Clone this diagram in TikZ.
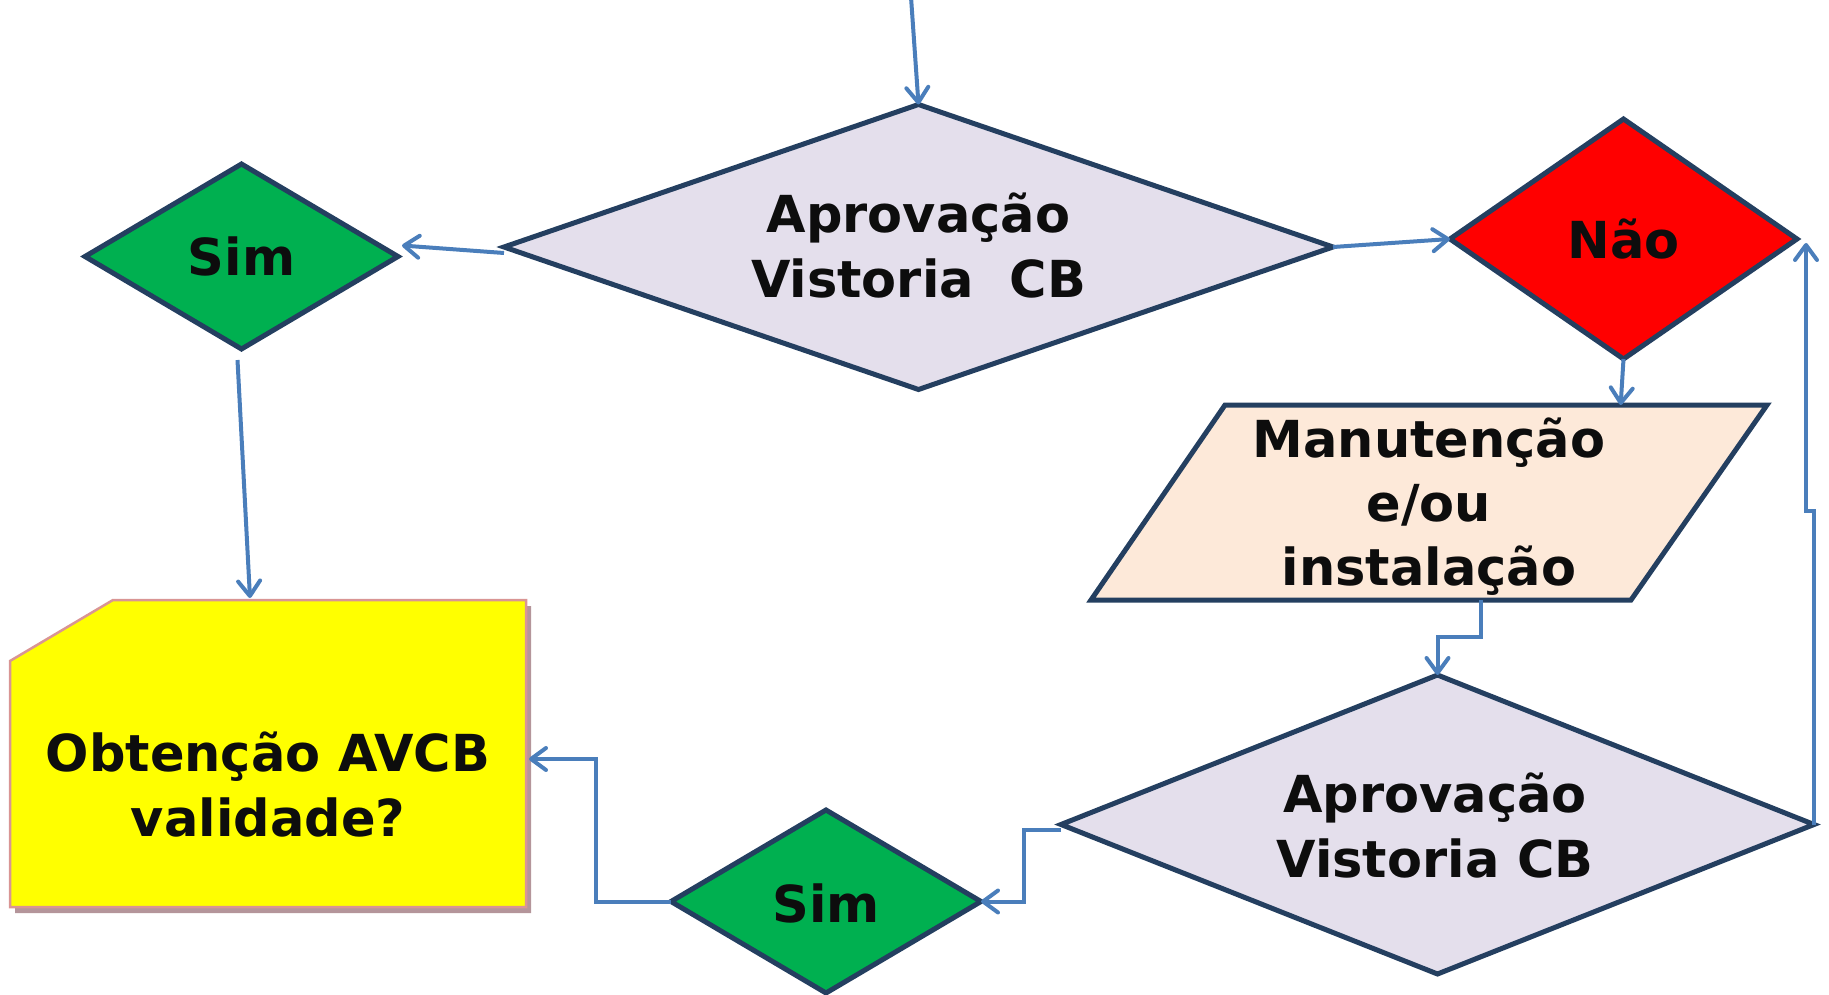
\documentclass[tikz,border=0pt]{standalone}
\usepackage{fontspec}
\setmainfont{DejaVu Sans}
\usetikzlibrary{shapes.geometric,arrows.meta,calc}
\definecolor{navy}{HTML}{243F60}
\definecolor{arrowblue}{HTML}{4A7EBB}
\definecolor{lavender}{HTML}{E4DFEC}
\definecolor{simgreen}{HTML}{00B050}
\definecolor{naored}{HTML}{FF0000}
\definecolor{peach}{HTML}{FDE9D9}
\definecolor{boxyellow}{HTML}{FFFF00}
\definecolor{boxpink}{HTML}{D99594}
\definecolor{boxshadow}{HTML}{B4959A}
\definecolor{ink}{HTML}{0D0D0D}
\begin{document}
\begin{tikzpicture}[x=1pt,y=-1pt,
  dia/.style={diamond,draw=navy,line width=5pt,inner sep=0pt,outer sep=0pt},
  lbl/.style={font=\fontsize{51}{65}\selectfont\bfseries,text=ink,align=center,inner sep=0pt},
  conn/.style={draw=arrowblue,line width=4pt,-{Straight Barb[length=15pt,width=22pt,round]}}]
\useasboundingbox (0,0) rectangle (1829,995);

% diamonds
\node[dia,fill=lavender,minimum width=829pt,minimum height=285pt] (D1) at (918.5,247) {};
\node[dia,fill=simgreen,minimum width=313pt,minimum height=185pt] (S1) at (241.5,256.5) {};
\node[dia,fill=naored,minimum width=347pt,minimum height=240pt] (N) at (1623.5,239) {};
\node[dia,fill=lavender,minimum width=753pt,minimum height=299pt] (D2) at (1437.5,824.5) {};
\node[dia,fill=simgreen,minimum width=310pt,minimum height=183pt] (S2) at (826,901.5) {};

% parallelogram
\coordinate (Ptl) at (1225,405);
\coordinate (Ptr) at (1767,405);
\coordinate (Pbr) at (1631,600);
\coordinate (Pbl) at (1091,600);
\draw[navy,line width=5pt,fill=peach,line join=miter] (Ptl) -- (Ptr) -- (Pbr) -- (Pbl) -- cycle;

% yellow box with shadow
\fill[boxshadow] (118,606) -- (531,606) -- (531,913) -- (15,913) -- (15,667) -- cycle;
\draw[boxpink,line width=2.5pt,fill=boxyellow] (113,600) -- (526,600) -- (526,907) -- (10,907) -- (10,661) -- cycle;
\coordinate (Ytop) at (250,598);
\coordinate (Yeast) at (529,759);

% texts
\node[lbl] (D1t) at (918.5,246) {Aprova\c{c}\~ao\\Vistoria\hspace{0.7em}CB};
\node[lbl] (S1t) at (241.5,256) {Sim};
\node[lbl] (Nt) at (1623.5,239) {N\~ao};
\node[lbl,font=\fontsize{51}{64}\selectfont\bfseries] (Pt) at (1429,507) {Manuten\c{c}\~ao\\e/ou\\instala\c{c}\~ao};
\node[lbl] (D2t) at (1435,826) {Aprova\c{c}\~ao\\Vistoria CB};
\node[lbl] (S2t) at (826,903) {Sim};
\node[lbl] (Yt) at (268,785) {Obten\c{c}\~ao AVCB\\validade?};

% connectors
\coordinate (In) at (911,-3);
\draw[conn] (In) -- (D1.north);
\draw[conn] ($(D1.west)+(0,6)$) -- ($(S1.east)+(4,-11)$);
\draw[conn] (D1.east) -- (N.west);
\draw[conn] ($(S1.south)+(-4,11)$) -- (Ytop);
\draw[conn] (N.south) -- ($(Ptl)!0.73!(Ptr)$);
\draw[conn] (1481,600) -- (1481,637) -- (1437.5,637) -- (D2.north);
\draw[conn] (D2.east) -- (1814,511) -- (1806,511) -- ($(N.east)+(9,4)$);
\draw[conn] ($(D2.west)+(0,5)$) -- (1024,829.5) -- (1024,901.5) -- (S2.east);
\draw[conn] (S2.west) -- (596,901.5) -- (596,759) -- (Yeast);
\end{tikzpicture}
\end{document}
